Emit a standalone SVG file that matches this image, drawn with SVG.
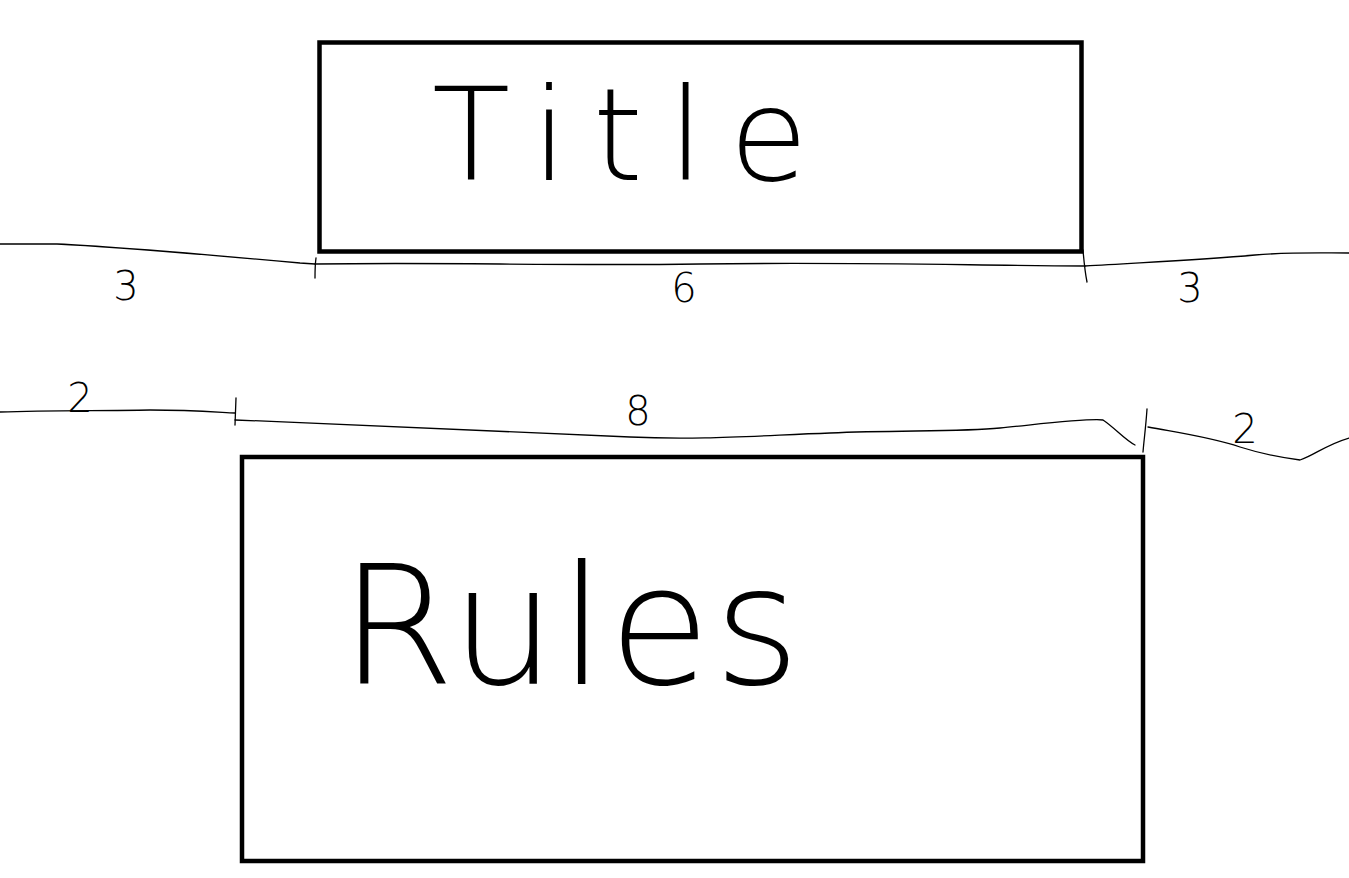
<svg xmlns="http://www.w3.org/2000/svg" width="1349" height="878" viewBox="0 0 1349 878">
<style>
.box{fill:none;stroke:#000;stroke-width:4.5}
.dim{fill:none;stroke:#000;stroke-width:1.3;stroke-linejoin:round;stroke-linecap:round}
.big{font-family:"DejaVu Sans","Liberation Sans",sans-serif;font-weight:200;fill:#000}
.num{font-family:"DejaVu Sans","Liberation Sans",sans-serif;font-weight:200;font-size:40px;fill:#000;text-anchor:middle}
</style>
<rect width="1349" height="878" fill="#fff"/>
<g id="title">
<rect class="box" x="319.5" y="42.5" width="762" height="209"/>
<text class="big" x="432" y="180" font-size="128" textLength="376" lengthAdjust="spacing">Title</text>
</g>
<g id="rules">
<rect class="box" x="242" y="457" width="901" height="404"/>
<text class="big" x="340" y="684" font-size="165" textLength="460" lengthAdjust="spacing">Rules</text>
</g>
<g id="connectors">
<path class="dim" d="M0,244 L57,244 C120,247 200,254 300,263 L315,264"/>
<path class="dim" d="M316,258 C315,265 315,272 315,278"/>
<path class="dim" d="M315,264 C450,262 550,266 700,264 C850,262 950,265 1085,266"/>
<path class="dim" d="M1083,250 C1084,262 1085,272 1087,282"/>
<path class="dim" d="M1085,266 C1150,262 1200,260 1255,255 C1290,252 1320,253 1349,253"/>
<path class="dim" d="M0,412 C50,410 100,411 150,410 C190,410 215,412 235,413"/>
<path class="dim" d="M236,398 L235,425"/>
<path class="dim" d="M235,420 C350,424 450,430 630,437 C700,440 750,436 830,433 C900,430 960,432 1000,428 C1050,423 1090,418 1103,420 C1115,428 1125,440 1135,445"/>
<path class="dim" d="M1147,409 C1146,425 1144,440 1143,452"/>
<path class="dim" d="M1148,427 C1180,433 1210,437 1240,447 C1265,455 1285,458 1300,460 C1315,455 1325,445 1349,438"/>
<text class="num" x="126" y="300">3</text>
<text class="num" x="684" y="302">6</text>
<text class="num" x="1190" y="302">3</text>
<text class="num" x="80" y="412">2</text>
<text class="num" x="638" y="425">8</text>
<text class="num" x="1245" y="443">2</text>
</g>
</svg>
